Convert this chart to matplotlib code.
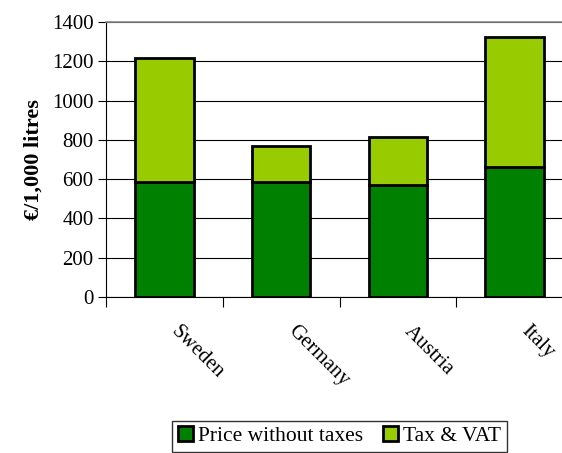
import numpy as np
import matplotlib
matplotlib.use("Agg")
import matplotlib.pyplot as plt
import matplotlib.transforms as mtransforms

# data
countries = ["Sweden", "Germany", "Austria", "Italy"]
price_no_tax = [585, 585, 572, 662]
tax_vat = [630, 185, 243, 661]

plt.rcParams['font.family'] = ['Liberation Serif', 'DejaVu Serif']

fig = plt.figure(figsize=(5.62, 4.53), dpi=100)
ax = fig.add_axes([106/562, 1 - 297/453, 467/562, 275/453])

x = np.arange(len(countries))
ax.bar(x, price_no_tax, width=0.5, color='#008000', edgecolor='black',
       linewidth=2.0, label='Price without taxes', zorder=3)
ax.bar(x, tax_vat, width=0.5, bottom=price_no_tax, color='#99CC00',
       edgecolor='black', linewidth=2.0, label='Tax & VAT', zorder=3)

ax.set_xlim(-0.5, len(countries) - 0.5)
ax.set_ylim(0, 1400)
ax.set_yticks(range(0, 1401, 200))
ax.yaxis.grid(True, color='black', linewidth=0.8, zorder=0)
ax.tick_params(axis='y', labelsize=15, length=6, width=0.8, pad=3)

# category boundary ticks, labels at centres
ax.set_xticks(x)
ax.set_xticklabels(countries, rotation=-45, ha='left', rotation_mode='anchor',
                   fontsize=15)
ax.tick_params(axis='x', which='major', length=0, pad=18)
ax.set_xticks(np.arange(-0.5, len(countries), 1.0), minor=True)
ax.tick_params(axis='x', which='minor', length=7, width=0.8)
shift = mtransforms.ScaledTranslation(16/100, 0, fig.dpi_scale_trans)
for lab in ax.get_xticklabels():
    lab.set_transform(lab.get_transform() + shift)

for s in ['left', 'bottom']:
    ax.spines[s].set_color('black')
    ax.spines[s].set_linewidth(0.8)
ax.spines['top'].set_color('#888888')
ax.spines['top'].set_linewidth(1.2)

ax.set_ylabel('€/1,000 litres', fontsize=16, fontweight='bold', labelpad=6)

leg = fig.legend(loc='upper center', bbox_to_anchor=(339.5/562, 1 - 421/453),
                 ncol=2, fontsize=15.5, frameon=True, fancybox=False,
                 edgecolor='black', handlelength=0.7, handleheight=0.7,
                 handletextpad=0.25, columnspacing=0.9, borderpad=0.25,
                 borderaxespad=0)
leg.get_frame().set_linewidth(1.0)
for h in leg.legend_handles:
    h.set_linewidth(2.0)

fig.savefig("out.png", dpi=100)
